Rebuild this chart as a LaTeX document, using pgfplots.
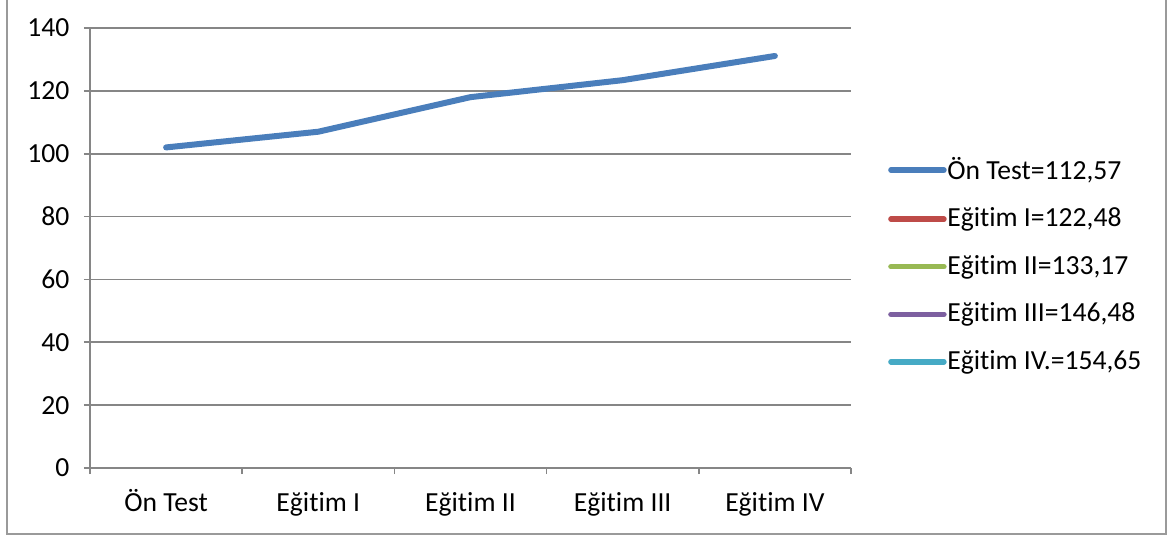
\documentclass[border=0pt]{standalone}
\usepackage{fontspec}
\setmainfont{Carlito}[Ligatures=NoCommon]
\usepackage{pgfplots}
\pgfplotsset{compat=1.18}
\definecolor{serblue}{HTML}{4A7EBB}
\definecolor{serred}{HTML}{BE4B48}
\definecolor{sergreen}{HTML}{98B954}
\definecolor{serpurple}{HTML}{7D60A0}
\definecolor{sercyan}{HTML}{46AAC5}
\definecolor{axgray}{HTML}{868686}
\definecolor{framegray}{HTML}{9A9A9A}
\newcommand{\chartfont}{\fontsize{13.8}{16}\selectfont}
\begin{document}
\chartfont
\begin{tikzpicture}[x=0.5pt,y=0.5pt]
% page = 1169 x 537 px, 1 px = 0.5pt
\path[use as bounding box] (0,0) rectangle (1169,537);
\draw[framegray, line width=1.2pt] (7,545) -- (7,3) -- (1166,3) -- (1166,545);
\begin{axis}[
    at={(45pt,34.5pt)}, anchor=south west,
    scale only axis,
    width=380.5pt, height=220pt,
    xmin=-0.5, xmax=4.5,
    ymin=0, ymax=140,
    ytick={0,20,...,140},
    xtick={-0.5,0.5,...,4.5},
    x tick label as interval,
    xticklabels={Ön Test, Eğitim I, Eğitim II, Eğitim III, Eğitim IV},
    axis lines=left,
    axis line style={axgray, line width=0.8pt, -},
    ymajorgrids,
    grid style={axgray, line width=0.8pt},
    tick align=outside,
    major tick length=3pt,
    tick style={axgray, line width=0.8pt},
    ticklabel style={font=\chartfont, text=black},
    /pgf/number format/assume math mode=true,
    yticklabel style={xshift=-2.5pt},
    xticklabel style={anchor=north, text height=10pt, text depth=3pt, yshift=-4pt},
    legend style={at={(1.0405,0.726)}, anchor=north west, draw=none, fill=none,
        font=\chartfont, row sep=8.2pt,
        nodes={inner xsep=0.3pt}},
    legend cell align=left,
    legend image code/.code={\draw[#1, line width=2.75pt, line cap=round] (0pt,0pt) -- (26.5pt,0pt);},
]
\addplot[serblue, line width=3pt, line cap=round, line join=round]
    coordinates {(0,102) (1,107) (2,118) (3,123.4) (4,131.1)};
\addlegendentry{Ön Test=112,57}
\addlegendimage{serred}
\addlegendentry{Eğitim I=122,48}
\addlegendimage{sergreen}
\addlegendentry{Eğitim II=133,17}
\addlegendimage{serpurple}
\addlegendentry{Eğitim III=146,48}
\addlegendimage{sercyan}
\addlegendentry{Eğitim IV.=154,65}
\end{axis}
\end{tikzpicture}
\end{document}
